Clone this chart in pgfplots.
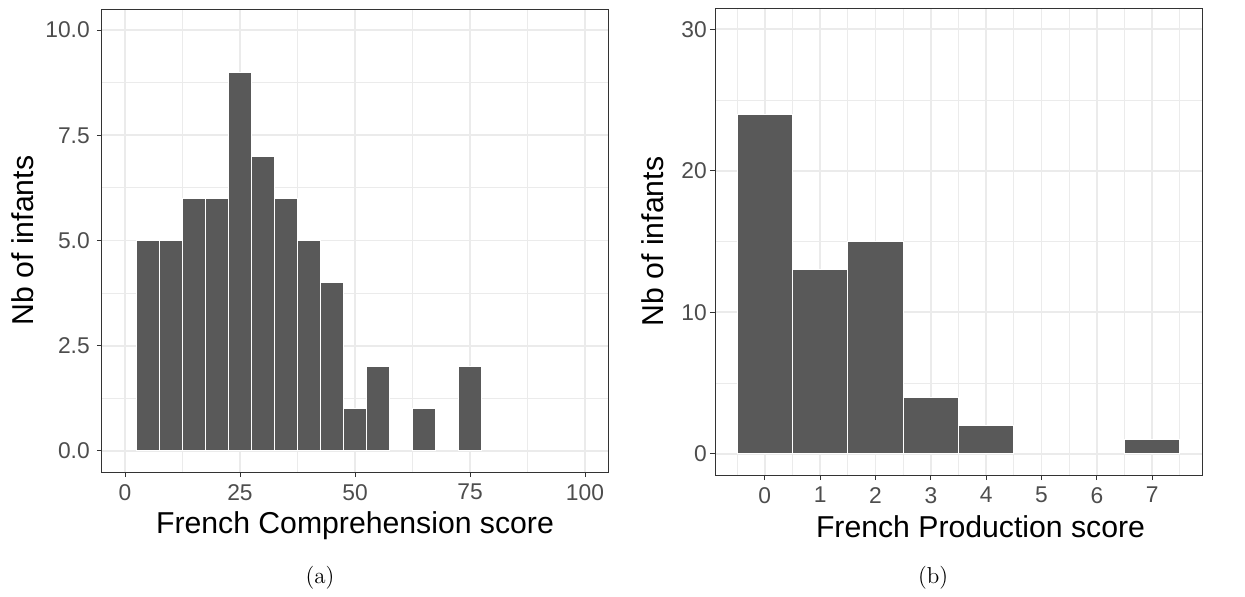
\documentclass[border=0pt]{standalone}
\usepackage{fontspec}
\usepackage{pgfplots}
\pgfplotsset{compat=1.18}
\newfontfamily\arial{Liberation Sans}
\definecolor{barfill}{HTML}{595959}
\definecolor{gridc}{HTML}{EBEBEB}
\definecolor{framec}{HTML}{333333}
\definecolor{ticklab}{HTML}{4D4D4D}

\pgfplotsset{ggbw/.style={
 scale only axis,
 axis line style={framec, line width=0.5pt},
 grid=both,
 major grid style={gridc, line width=0.9pt},
 minor grid style={gridc, line width=0.45pt},
 tick style={framec, line width=0.5pt},
 major tick length=2.6pt, minor tick length=0pt,
 tick align=outside, xtick pos=bottom, ytick pos=left,
 tick label style={font=\arial\fontsize{11.4}{13}\selectfont, text=ticklab},
 label style={font=\arial\fontsize{15.1}{18}\selectfont, text=black},
 /pgf/number format/assume math mode=true,
}}

\begin{document}
\begin{tikzpicture}
\useasboundingbox (0,0) rectangle (622.5pt,298pt);
\begin{axis}[ggbw, at={(51pt,62pt)}, anchor=south west, width=253pt, height=231.5pt,
 xmin=-5, xmax=105, ymin=-0.5, ymax=10.5,
 xtick={0,25,50,75,100}, minor xtick={12.5,37.5,62.5,87.5},
 ytick={0,2.5,5,7.5,10}, yticklabels={0.0,2.5,5.0,7.5,10.0},
 minor ytick={1.25,3.75,6.25,8.75},
 xlabel={French Comprehension score}, ylabel={Nb of infants},
 xlabel style={at={([yshift=-30.5pt]axis description cs:0.5,0)}, anchor=base},
 ylabel style={at={([xshift=-34pt]axis description cs:0,0.5)}, anchor=base},
]
\addplot[ybar, bar width=5, bar shift=0pt, fill=barfill, draw=white, line width=0.5pt]
 coordinates {(5,5)(10,5)(15,6)(20,6)(25,9)(30,7)(35,6)(40,5)(45,4)(50,1)(55,2)(65,1)(75,2)};
\end{axis}
\begin{axis}[ggbw, at={(357.5pt,60.5pt)}, anchor=south west, width=243.5pt, height=233.5pt,
 xmin=-0.9, xmax=7.9, ymin=-1.5, ymax=31.5,
 xtick={0,1,2,3,4,5,6,7}, minor xtick={-0.5,0.5,1.5,2.5,3.5,4.5,5.5,6.5,7.5},
 ytick={0,10,20,30}, minor ytick={5,15,25},
 yticklabel style={xshift=2pt},
 xlabel={French Production score}, ylabel={Nb of infants},
 xlabel style={at={([xshift=11pt,yshift=-31pt]axis description cs:0.5,0)}, anchor=base},
 ylabel style={at={([xshift=-26pt]axis description cs:0,0.5)}, anchor=base},
]
\addplot[ybar, bar width=1, bar shift=0pt, fill=barfill, draw=white, line width=0.5pt]
 coordinates {(0,24)(1,13)(2,15)(3,4)(4,2)(7,1)};
\end{axis}
\node[font=\fontsize{11.5}{14}\selectfont] at (160pt,9pt) {(a)};
\node[font=\fontsize{11.5}{14}\selectfont] at (466.5pt,9pt) {(b)};
\end{tikzpicture}
\end{document}
